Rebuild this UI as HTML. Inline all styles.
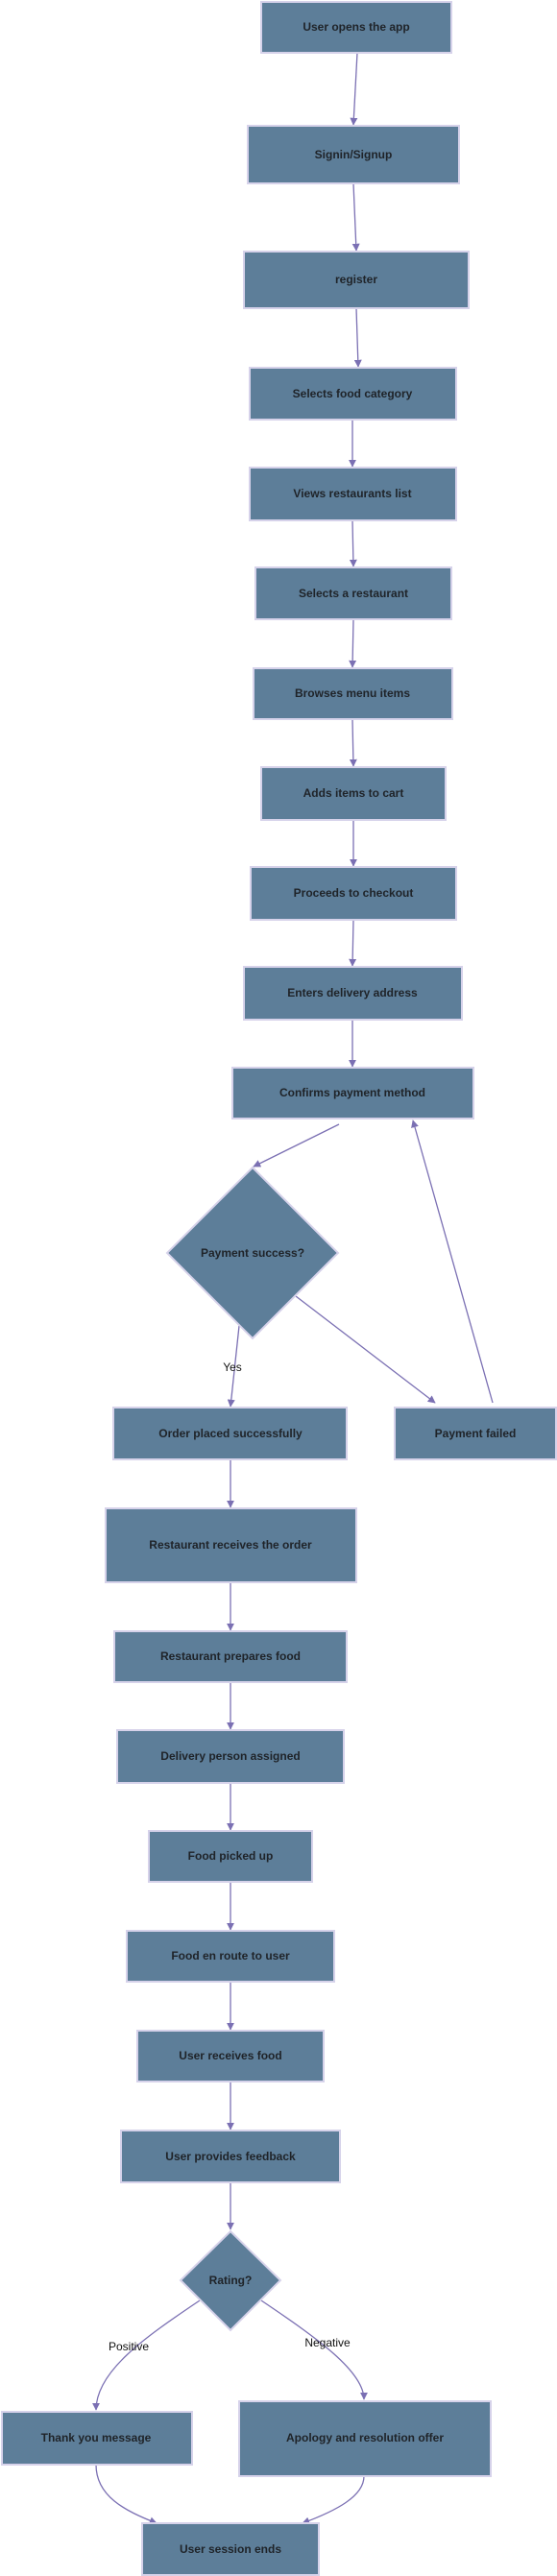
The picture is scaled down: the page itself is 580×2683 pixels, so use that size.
<!DOCTYPE html>
<html><head><meta charset="utf-8"><style>
html,body{margin:0;padding:0;background:#ffffff;}
svg{display:block;}
.b{fill:#5d7e99;stroke:#d6d2ea;stroke-width:2;}
.t{font-family:"Liberation Sans",Arial,sans-serif;font-size:12px;font-weight:bold;fill:#1f2328;text-anchor:middle;dominant-baseline:central;}
.l{font-family:"Liberation Sans",Arial,sans-serif;font-size:12px;fill:#111;text-anchor:middle;dominant-baseline:central;}
.a{stroke:#7b70b3;stroke-width:1.3;fill:none;marker-end:url(#m);}
</style></head><body>
<svg width="580" height="2683" viewBox="0 0 580 2683" xmlns="http://www.w3.org/2000/svg">
<defs><marker id="m" viewBox="0 0 10 10" refX="9" refY="5" markerWidth="8" markerHeight="8" orient="auto" markerUnits="userSpaceOnUse"><path d="M0,0 L10,5 L0,10 z" fill="#7b70b3"/></marker></defs>

<path class="a" d="M372,55 L368,130"/>
<path class="a" d="M368,191 L371,261"/>
<path class="a" d="M371,321 L373,382"/>
<path class="a" d="M367,437 L367,486"/>
<path class="a" d="M367,542 L368,590"/>
<path class="a" d="M368,645 L367,695"/>
<path class="a" d="M367,749 L368,798"/>
<path class="a" d="M368,854 L368,902"/>
<path class="a" d="M368,958 L367,1006"/>
<path class="a" d="M367,1062 L367,1111"/>
<path class="a" d="M353,1171 L264,1215"/>
<path class="a" d="M249,1381 L240,1465"/>
<path class="a" d="M308,1350 L453,1461"/>
<path class="a" d="M513,1461 L430,1167"/>
<path class="a" d="M240,1520 L240,1570"/>
<path class="a" d="M240,1648 L240,1698"/>
<path class="a" d="M240,1752 L240,1801"/>
<path class="a" d="M240,1857 L240,1906"/>
<path class="a" d="M240,1960 L240,2010"/>
<path class="a" d="M240,2064 L240,2114"/>
<path class="a" d="M240,2168 L240,2218"/>
<path class="a" d="M240,2273 L240,2322"/>
<path class="a" d="M208,2396 C150,2435 100,2470 100,2510"/>
<path class="a" d="M272,2396 C330,2435 379,2470 379,2499"/>
<path class="a" d="M100,2567 C100,2600 130,2615 163,2628"/>
<path class="a" d="M379,2579 C379,2600 350,2615 315,2628"/>

<rect class="b" x="272" y="2" width="198" height="53"/><text class="t" x="371" y="28">User opens the app</text>
<rect class="b" x="258" y="131" width="220" height="60"/><text class="t" x="368" y="161">Signin/Signup</text>
<rect class="b" x="254" y="262" width="234" height="59"/><text class="t" x="371" y="291">register</text>
<rect class="b" x="260" y="383" width="215" height="54"/><text class="t" x="367" y="410">Selects food category</text>
<rect class="b" x="260" y="487" width="215" height="55"/><text class="t" x="367" y="514">Views restaurants list</text>
<rect class="b" x="266" y="591" width="204" height="54"/><text class="t" x="368" y="618">Selects a restaurant</text>
<rect class="b" x="264" y="696" width="207" height="53"/><text class="t" x="367" y="722">Browses menu items</text>
<rect class="b" x="272" y="799" width="192" height="55"/><text class="t" x="368" y="826">Adds items to cart</text>
<rect class="b" x="261" y="903" width="214" height="55"/><text class="t" x="368" y="930">Proceeds to checkout</text>
<rect class="b" x="254" y="1007" width="227" height="55"/><text class="t" x="367" y="1034">Enters delivery address</text>
<rect class="b" x="242" y="1112" width="251" height="53"/><text class="t" x="367" y="1138">Confirms payment method</text>
<polygon class="b" points="263,1216 352,1305 263,1394 174,1305"/><text class="t" x="263" y="1305">Payment success?</text>
<text class="l" x="242" y="1424">Yes</text>
<rect class="b" x="118" y="1466" width="243" height="54"/><text class="t" x="240" y="1493">Order placed successfully</text>
<rect class="b" x="411" y="1466" width="168" height="54"/><text class="t" x="495" y="1493">Payment failed</text>
<rect class="b" x="110" y="1571" width="261" height="77"/><text class="t" x="240" y="1609">Restaurant receives the order</text>
<rect class="b" x="119" y="1699" width="242" height="53"/><text class="t" x="240" y="1725">Restaurant prepares food</text>
<rect class="b" x="122" y="1802" width="236" height="55"/><text class="t" x="240" y="1829">Delivery person assigned</text>
<rect class="b" x="155" y="1907" width="170" height="53"/><text class="t" x="240" y="1933">Food picked up</text>
<rect class="b" x="132" y="2011" width="216" height="53"/><text class="t" x="240" y="2037">Food en route to user</text>
<rect class="b" x="143" y="2115" width="194" height="53"/><text class="t" x="240" y="2141">User receives food</text>
<rect class="b" x="126" y="2219" width="228" height="54"/><text class="t" x="240" y="2246">User provides feedback</text>
<polygon class="b" points="240,2324 292,2375 240,2427 188,2375"/><text class="t" x="240" y="2375">Rating?</text>
<text class="l" x="134" y="2444">Positive</text>
<text class="l" x="341" y="2440">Negative</text>
<rect class="b" x="2" y="2512" width="198" height="55"/><text class="t" x="100" y="2539">Thank you message</text>
<rect class="b" x="249" y="2501" width="262" height="78"/><text class="t" x="380" y="2539">Apology and resolution offer</text>
<rect class="b" x="148" y="2628" width="184" height="54"/><text class="t" x="240" y="2655">User session ends</text>
</svg>
</body></html>
